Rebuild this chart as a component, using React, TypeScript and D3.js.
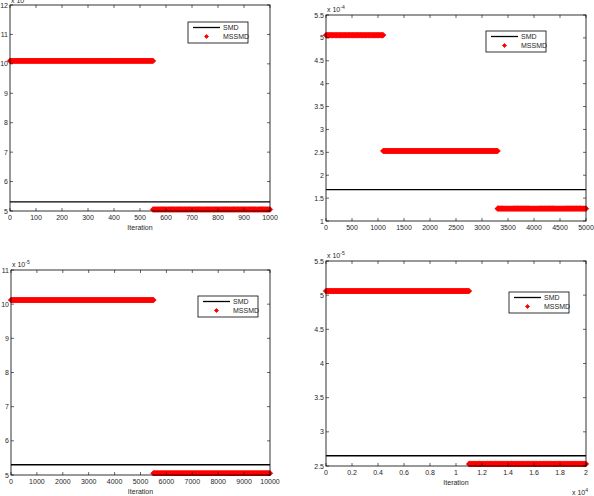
import React from "react";
import * as d3 from "d3";

// ---- data ----
const p1XDomain = [0, 1000];
const p1YDomain = [5, 12];
const p1XTicks = [0, 100, 200, 300, 400, 500, 600, 700, 800, 900, 1000];
const p1YTicks = [5, 6, 7, 8, 9, 10, 11, 12];
const p1SMD = 5.31;
const p1Segments: [number, number, number][] = [[0, 550, 10.1], [550, 1000, 5.05]];

const p2XDomain = [0, 5000];
const p2YDomain = [1, 5.5];
const p2XTicks = [0, 500, 1000, 1500, 2000, 2500, 3000, 3500, 4000, 4500, 5000];
const p2YTicks = [1, 1.5, 2, 2.5, 3, 3.5, 4, 4.5, 5, 5.5];
const p2SMD = 1.685;
const p2Segments: [number, number, number][] = [[0, 1100, 5.06], [1100, 3300, 2.53], [3300, 5000, 1.27]];

const p3XDomain = [0, 10000];
const p3YDomain = [5, 11];
const p3XTicks = [0, 1000, 2000, 3000, 4000, 5000, 6000, 7000, 8000, 9000, 10000];
const p3YTicks = [5, 6, 7, 8, 9, 10, 11];
const p3SMD = 5.3;
const p3Segments: [number, number, number][] = [[0, 5500, 10.12], [5500, 10000, 5.05]];

const p4XDomain = [0, 20000];
const p4YDomain = [2.5, 5.5];
const p4XTicks = [0, 2000, 4000, 6000, 8000, 10000, 12000, 14000, 16000, 18000, 20000];
const p4YTicks = [2.5, 3, 3.5, 4, 4.5, 5, 5.5];
const p4SMD = 2.65;
const p4Segments: [number, number, number][] = [[0, 11000, 5.06], [11000, 20000, 2.53]];

const legendLabels = ["SMD", "MSSMD"];

const FONT = "'Liberation Sans', Arial, sans-serif";
const TXT = "#262626";

type PanelProps = {
  left: number; top: number; width: number; height: number;
  xDomain: number[]; yDomain: number[]; xTicks: number[]; yTicks: number[];
  smd: number; segments: [number, number, number][];
  xFmt: (v: number) => string;
  yExp: string; yExpDy: number;
  xlabel: boolean; xExp?: string;
  legend: { x: number; y: number };
};

function Diamond({ x, y, r }: { x: number; y: number; r: number }) {
  return <path d={`M${x},${y - r}L${x + r},${y}L${x},${y + r}L${x - r},${y}Z`} fill="#ff0000" stroke="#ff0000" strokeWidth={0.8} />;
}

function Panel(p: PanelProps) {
  const x = d3.scaleLinear().domain(p.xDomain).range([p.left, p.left + p.width]);
  const y = d3.scaleLinear().domain(p.yDomain).range([p.top + p.height, p.top]);
  const bottom = p.top + p.height;
  const right = p.left + p.width;
  const tk = 3;
  const markers: JSX.Element[] = [];
  p.segments.forEach((s, si) => {
    const px0 = x(s[0]);
    const px1 = x(s[1]);
    const n = Math.max(2, Math.round((px1 - px0) / 0.8));
    for (let i = 0; i <= n; i++) {
      const v = s[0] + ((s[1] - s[0]) * i) / n;
      markers.push(<Diamond key={`${si}-${i}`} x={x(v)} y={y(s[2])} r={2.7} />);
    }
  });
  const lg = p.legend;
  return (
    <g fontFamily={FONT} fontSize={7}>
      <rect x={p.left} y={p.top} width={p.width} height={p.height} fill="white" />
      <line x1={p.left} x2={right} y1={y(p.smd)} y2={y(p.smd)} stroke="black" strokeWidth={1.3} />
      {markers}
      <rect x={p.left} y={p.top} width={p.width} height={p.height} fill="none" stroke="black" strokeWidth={0.8} />
      {p.xTicks.map((t) => (
        <g key={"x" + t}>
          <line x1={x(t)} x2={x(t)} y1={bottom} y2={bottom - tk} stroke="black" strokeWidth={0.6} />
          <line x1={x(t)} x2={x(t)} y1={p.top} y2={p.top + tk} stroke="black" strokeWidth={0.6} />
          <text x={x(t)} y={bottom + 9} textAnchor="middle" fill={TXT}>{p.xFmt(t)}</text>
        </g>
      ))}
      {p.yTicks.map((t) => (
        <g key={"y" + t}>
          <line x1={p.left} x2={p.left + tk} y1={y(t)} y2={y(t)} stroke="black" strokeWidth={0.6} />
          <line x1={right} x2={right - tk} y1={y(t)} y2={y(t)} stroke="black" strokeWidth={0.6} />
          <text x={p.left - 2} y={y(t) + 2.5} textAnchor="end" fill={TXT}>{String(t)}</text>
        </g>
      ))}
      <text x={p.left + 1} y={p.top + p.yExpDy} fontSize={7} fill={TXT}>
        x 10<tspan dy={-3} fontSize={5}>{p.yExp}</tspan>
      </text>
      {p.xlabel && <text x={p.left + p.width / 2} y={bottom + 19} textAnchor="middle" fill={TXT}>Iteration</text>}
      {p.xExp && (
        <text x={right - 14} y={bottom + 29} fontSize={7} fill={TXT}>
          x 10<tspan dy={-3} fontSize={5}>{p.xExp}</tspan>
        </text>
      )}
      <rect x={lg.x} y={lg.y} width={60} height={21} fill="white" stroke="black" strokeWidth={0.8} />
      <line x1={lg.x + 5} x2={lg.x + 32} y1={lg.y + 5.5} y2={lg.y + 5.5} stroke="black" strokeWidth={1.3} />
      <text x={lg.x + 35} y={lg.y + 8} fill={TXT}>{legendLabels[0]}</text>
      <Diamond x={lg.x + 18.5} y={lg.y + 14.5} r={2} />
      <text x={lg.x + 35} y={lg.y + 17} fill={TXT}>{legendLabels[1]}</text>
    </g>
  );
}

export default function App() {
  const fmtInt = (v: number) => String(v);
  const fmt4 = (v: number) => String(+(v / 10000).toFixed(1));
  return (
    <svg width={594} height={496} style={{ position: "absolute", left: 0, top: 0, background: "white" }}>
      <Panel left={10} top={5} width={260} height={206} xDomain={p1XDomain} yDomain={p1YDomain}
        xTicks={p1XTicks} yTicks={p1YTicks} smd={p1SMD} segments={p1Segments} xFmt={fmtInt}
        yExp="-4" yExpDy={-2} xlabel={true} legend={{ x: 188, y: 22 }} />
      <Panel left={326} top={15} width={260} height={206} xDomain={p2XDomain} yDomain={p2YDomain}
        xTicks={p2XTicks} yTicks={p2YTicks} smd={p2SMD} segments={p2Segments} xFmt={fmtInt}
        yExp="-4" yExpDy={-3} xlabel={false} legend={{ x: 486, y: 31 }} />
      <Panel left={11} top={270} width={259} height={205} xDomain={p3XDomain} yDomain={p3YDomain}
        xTicks={p3XTicks} yTicks={p3YTicks} smd={p3SMD} segments={p3Segments} xFmt={fmtInt}
        yExp="-5" yExpDy={-3} xlabel={true} legend={{ x: 198, y: 296 }} />
      <Panel left={326} top={261} width={260} height={205} xDomain={p4XDomain} yDomain={p4YDomain}
        xTicks={p4XTicks} yTicks={p4YTicks} smd={p4SMD} segments={p4Segments} xFmt={fmt4}
        yExp="-5" yExpDy={-3} xlabel={true} xExp="4" legend={{ x: 509, y: 292 }} />
    </svg>
  );
}
